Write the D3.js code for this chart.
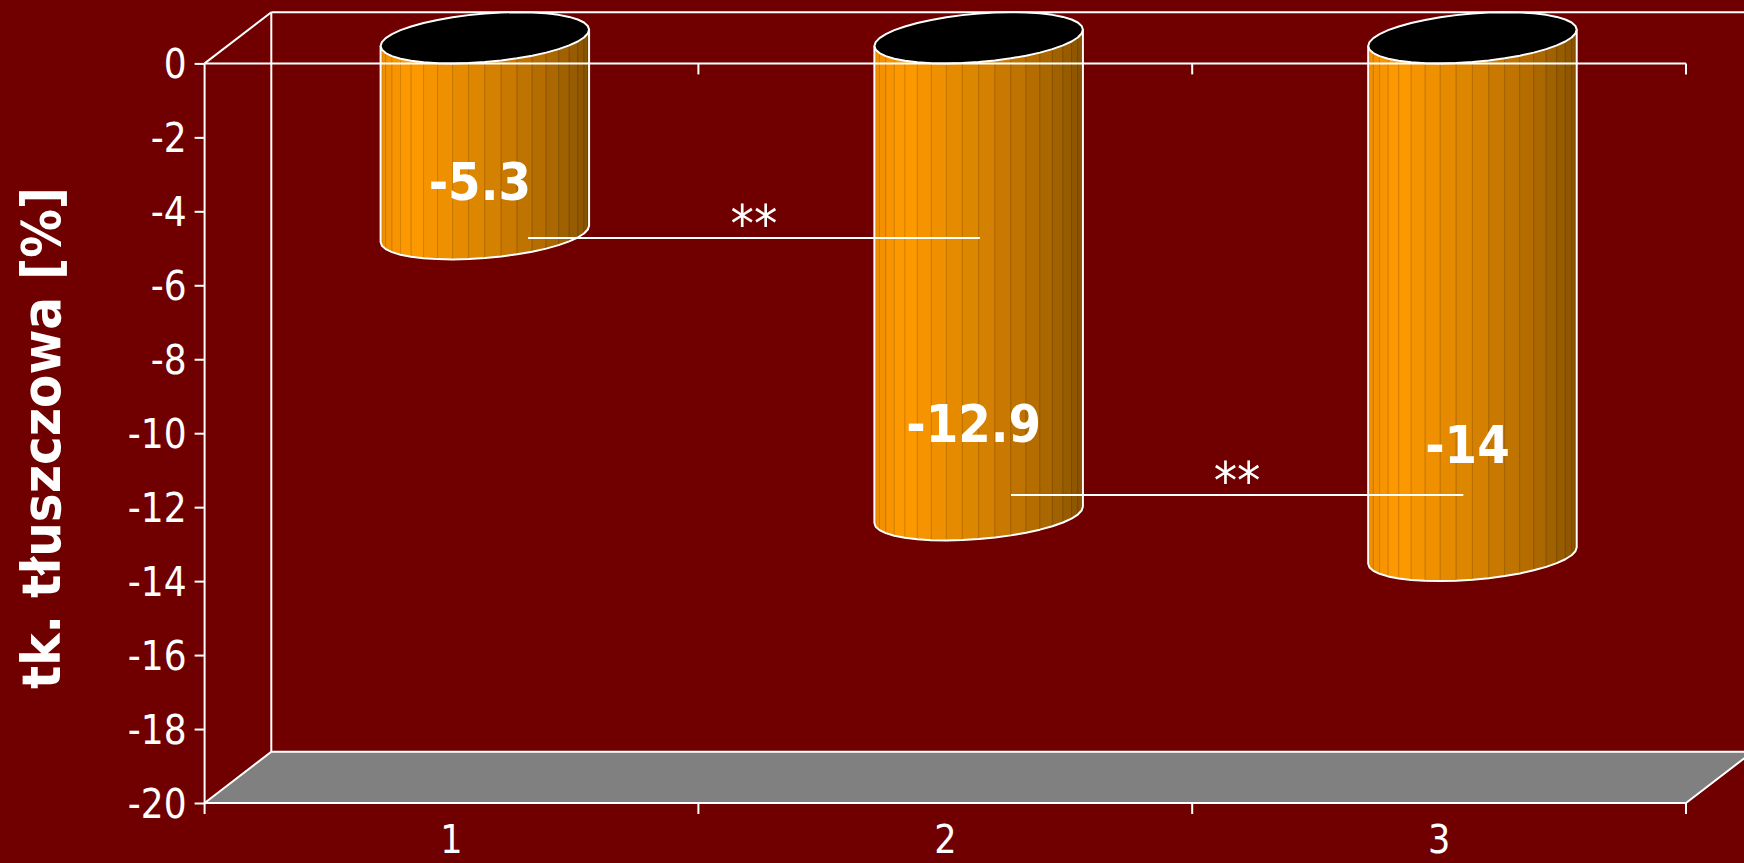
<!doctype html>
<html lang="pl">
<head>
<meta charset="utf-8">
<title>tk. tłuszczowa</title>
<script src="https://cdn.jsdelivr.net/npm/d3@7"></script>
<style>
  html, body { margin: 0; padding: 0; background: #700000; }
  svg { display: block; }
  text { font-family: "DejaVu Sans Condensed", "DejaVu Sans", sans-serif; font-stretch: condensed; fill: #fff; }
</style>
</head>
<body>
<svg id="chart" width="1744" height="863"></svg>
<script>
// data
const categories = [1, 2, 3];
const values = [-5.3, -12.9, -14];
const valueLabels = ["-5.3", "-12.9", "-14"];
const yTicks = [0, -2, -4, -6, -8, -10, -12, -14, -16, -18, -20];
const yTitle = "tk. tłuszczowa [%]";
// significance brackets: between which categories, at which value, text
const sigFrom = [1, 2];
const sigTo = [2, 3];
const sigAt = [-4.72, -11.67];
const sigText = ["**", "**"];

// layout
const W = 1744, H = 863;
const plotLeft = 204.6, plotRight = 1686, plotTop = 63.4, plotBottom = 803;
const depthX = 66.7, depthY = -51.2;      // oblique 3d offset of the back wall
const labelAt = [-3.7, -10.25, -10.8];    // where the value labels sit (in data units)
const sigSpan = [[0.655, 0.57], [0.633, 0.549]];  // bracket ends, as fraction of band

const svg = d3.select("#chart");
svg.append("rect").attr("width", W).attr("height", H).attr("fill", "#700000");

const x = d3.scaleBand().domain(categories).range([plotLeft, plotRight]).padding(0);
const y = d3.scaleLinear().domain([-20, 0]).range([plotBottom, plotTop]);
const bw = x.bandwidth();

const white = "#ffffff";
const g = svg.append("g");

// back wall
g.append("line")
  .attr("x1", plotLeft + depthX).attr("x2", plotLeft + depthX)
  .attr("y1", y(0) + depthY).attr("y2", y(-20) + depthY)
  .attr("stroke", white).attr("stroke-width", 2);
g.append("line")
  .attr("x1", plotLeft + depthX).attr("x2", W + 10)
  .attr("y1", y(0) + depthY).attr("y2", y(0) + depthY)
  .attr("stroke", white).attr("stroke-width", 2);

// floor
g.append("path")
  .attr("d", d3.line()([
    [plotLeft, y(-20)], [plotRight, y(-20)],
    [plotRight + depthX, y(-20) + depthY], [plotLeft + depthX, y(-20) + depthY]
  ]) + "Z")
  .attr("fill", "#808080").attr("stroke", white).attr("stroke-width", 2)
  .attr("stroke-linejoin", "round");

// diagonal top-left edge
g.append("line")
  .attr("x1", plotLeft).attr("y1", y(0))
  .attr("x2", plotLeft + depthX).attr("y2", y(0) + depthY)
  .attr("stroke", white).attr("stroke-width", 2);

// y axis
const yAxis = d3.axisLeft(y).tickValues(yTicks).tickSize(10).tickPadding(8)
  .tickFormat(d3.format("d"));
const ya = svg.append("g").attr("transform", `translate(${plotLeft},0)`).call(yAxis);
ya.select(".domain").remove();
ya.selectAll(".tick line").attr("stroke", white).attr("stroke-width", 2);
ya.selectAll(".tick text")
  .attr("fill", white).style("font-size", "40px").attr("dy", "0.36em")
  .text(d => d === 0 ? "0" : "-" + Math.abs(d));
svg.append("line")
  .attr("x1", plotLeft).attr("x2", plotLeft)
  .attr("y1", y(0)).attr("y2", y(-20) + 11)
  .attr("stroke", white).attr("stroke-width", 2);

// category boundaries (ticks) on the front bottom edge
const bounds = categories.map(c => x(c)).concat([plotRight]);
svg.selectAll("line.btick").data(bounds.slice(1)).enter().append("line")
  .attr("class", "btick")
  .attr("x1", d => d).attr("x2", d => d)
  .attr("y1", y(-20)).attr("y2", y(-20) + 11)
  .attr("stroke", white).attr("stroke-width", 2);

// cylinders
const rx = bw * 0.2;
const hx = depthX / 2, hy = depthY / 2;
const N = 40;
const th0 = Math.PI + Math.atan2(hx, rx);
const angles = d3.range(N + 1).map(k => th0 + 2 * Math.PI * k / N);
const pt = (cx, cy, t) => [cx + rx * Math.cos(t) + hx * Math.sin(t), cy + hy * Math.sin(t)];
const halfW = Math.sqrt(rx * rx + hx * hx);
const shade = d3.scaleLinear()
  .domain([0, 0.15, 0.5, 0.8, 1])
  .range(["#ef8e00", "#ff9a00", "#d98300", "#b06a00", "#885200"])
  .interpolate(d3.interpolateRgb);

const bars = svg.append("g");
categories.forEach((c, i) => {
  const cx = x(c) + bw / 2 + hx;
  const cTop = y(0) + hy;
  const cBot = y(values[i]) + hy;
  const cg = bars.append("g");

  // side facets on the visible half
  for (let k = 0; k < N / 2; k++) {
    const a = angles[k], b = angles[k + 1];
    const p1 = pt(cx, cTop, a), p2 = pt(cx, cTop, b);
    const p3 = pt(cx, cBot, b), p4 = pt(cx, cBot, a);
    const s = ((p1[0] + p2[0]) / 2 - (cx - halfW)) / (2 * halfW);
    const col = shade(s);
    cg.append("path")
      .attr("d", d3.line()([p1, p2, p3, p4]) + "Z")
      .attr("fill", col)
      .attr("stroke", d3.color(col).darker(0.45))
      .attr("stroke-width", 0.9);
  }

  // white outline: left edge, bottom front arc, right edge
  const outline = [pt(cx, cTop, angles[0])]
    .concat(angles.slice(0, N / 2 + 1).map(t => pt(cx, cBot, t)))
    .concat([pt(cx, cTop, angles[N / 2])]);
  cg.append("path")
    .attr("d", d3.line()(outline))
    .attr("fill", "none").attr("stroke", white).attr("stroke-width", 2)
    .attr("stroke-linejoin", "round");

  // black top
  cg.append("path")
    .attr("d", d3.line()(angles.slice(0, N).map(t => pt(cx, cTop, t))) + "Z")
    .attr("fill", "#000").attr("stroke", white).attr("stroke-width", 2)
    .attr("stroke-linejoin", "round");
});

// front axis line at 0 with ticks
svg.append("line")
  .attr("x1", plotLeft).attr("x2", plotRight)
  .attr("y1", y(0)).attr("y2", y(0))
  .attr("stroke", white).attr("stroke-width", 2);
svg.selectAll("line.ttick").data(bounds.slice(1)).enter().append("line")
  .attr("class", "ttick")
  .attr("x1", d => d).attr("x2", d => d)
  .attr("y1", y(0)).attr("y2", y(0) + 11)
  .attr("stroke", white).attr("stroke-width", 2);

// significance brackets
sigAt.forEach((v, i) => {
  const x1 = x(sigFrom[i]) + bw * sigSpan[i][0];
  const x2 = x(sigTo[i]) + bw * sigSpan[i][1];
  svg.append("line")
    .attr("x1", x1).attr("x2", x2)
    .attr("y1", y(v)).attr("y2", y(v))
    .attr("stroke", white).attr("stroke-width", 2);
  svg.append("text")
    .attr("x", (x1 + x2) / 2).attr("y", y(v) + 4)
    .attr("text-anchor", "middle")
    .style("font-size", "52px")
    .text(sigText[i]);
});

// value labels
svg.selectAll("text.val").data(values).enter().append("text")
  .attr("class", "val")
  .attr("x", (d, i) => x(categories[i]) + bw / 2 + hx - 5)
  .attr("y", (d, i) => y(labelAt[i]))
  .attr("text-anchor", "middle")
  .style("font-size", "52px").style("font-weight", "bold")
  .text((d, i) => valueLabels[i]);

// category labels
svg.selectAll("text.cat").data(categories).enter().append("text")
  .attr("class", "cat")
  .attr("x", d => x(d) + bw / 2)
  .attr("y", 853)
  .attr("text-anchor", "middle")
  .style("font-size", "39px")
  .text(d => d);

// y title
svg.append("text")
  .attr("transform", "translate(60,438) rotate(-90)")
  .attr("text-anchor", "middle")
  .style("font-size", "54px").style("font-weight", "bold")
  .text(yTitle);
</script>
</body>
</html>
